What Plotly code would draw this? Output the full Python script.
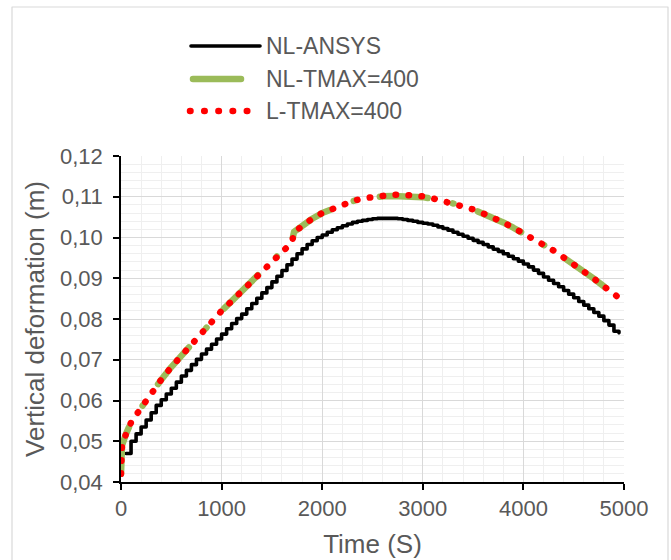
import plotly.graph_objects as go

# ---- data -------------------------------------------------------------
# NL-ANSYS: sampled every 50 s
t_ansys = list(range(50, 5000, 50))
v_ansys = [
    0.0470, 0.0500, 0.0518, 0.0535, 0.0552, 0.0570, 0.0588, 0.0602, 0.0616, 0.0630,
    0.0645, 0.0660, 0.0674, 0.0688, 0.0701, 0.0714, 0.0726, 0.0738, 0.0751, 0.0763,
    0.0776, 0.0789, 0.0801, 0.0812, 0.0825, 0.0838, 0.0851, 0.0864, 0.0877, 0.0891,
    0.0905, 0.0919, 0.0933, 0.0947, 0.0960, 0.0972, 0.0983, 0.0992, 0.1000, 0.1006,
    0.1013, 0.1019, 0.1024, 0.1029, 0.1033, 0.1037, 0.1040, 0.1042, 0.1044, 0.1046,
    0.1047, 0.1047, 0.1047, 0.1047, 0.1046, 0.1044, 0.1042, 0.1040, 0.1037, 0.1035,
    0.1033, 0.1030, 0.1026, 0.1022, 0.1018, 0.1013, 0.1008, 0.1003, 0.0998, 0.0993,
    0.0988, 0.0983, 0.0977, 0.0971, 0.0966, 0.0960, 0.0954, 0.0948, 0.0942, 0.0935,
    0.0928, 0.0920, 0.0912, 0.0903, 0.0895, 0.0887, 0.0879, 0.0870, 0.0861, 0.0852,
    0.0843, 0.0834, 0.0825, 0.0816, 0.0807, 0.0796, 0.0785, 0.0770, 0.0766,
]

# TMAX = 400 runs (nonlinear and linear)
t_tmax = [0, 10, 50, 100, 200, 300, 400, 500, 600, 700, 800, 900, 1000, 1100, 1200,
          1300, 1400, 1500, 1600, 1700, 1720, 1800, 1900, 2000, 2100, 2200, 2300,
          2400, 2500, 2600, 2700, 2800, 2900, 3000, 3100, 3200, 3300, 3400, 3500,
          3600, 3700, 3800, 3900, 4000, 4100, 4200, 4300, 4400, 4500, 4600, 4700,
          4800, 4900, 4950]
v_nl_tmax = [0.0420, 0.0490, 0.0518, 0.0546, 0.0582, 0.0618, 0.0651, 0.0682, 0.0710,
             0.0739, 0.0767, 0.0793, 0.0820, 0.0844, 0.0868, 0.0892, 0.0917, 0.0941,
             0.0963, 0.0990, 0.1014, 0.1030, 0.1046, 0.1060, 0.1071, 0.1081, 0.1089,
             0.1095, 0.1099, 0.1101, 0.1102, 0.1102, 0.1101, 0.1099, 0.1095, 0.1090,
             0.1084, 0.1078, 0.1069, 0.1059, 0.1049, 0.1037, 0.1024, 0.1011, 0.0998,
             0.0983, 0.0968, 0.0951, 0.0935, 0.0918, 0.0899, 0.0880, 0.0860, 0.0852]
v_l_tmax = [0.0420, 0.0490, 0.0518, 0.0546, 0.0582, 0.0618, 0.0651, 0.0682, 0.0710,
            0.0739, 0.0767, 0.0793, 0.0820, 0.0844, 0.0868, 0.0892, 0.0917, 0.0941,
            0.0963, 0.0988, 0.1013, 0.1030, 0.1046, 0.1060, 0.1071, 0.1081, 0.1089,
            0.1096, 0.1100, 0.1103, 0.1105, 0.1105, 0.1104, 0.1101, 0.1096, 0.1090,
            0.1084, 0.1078, 0.1069, 0.1059, 0.1049, 0.1037, 0.1024, 0.1011, 0.0998,
            0.0983, 0.0968, 0.0951, 0.0935, 0.0918, 0.0899, 0.0880, 0.0860, 0.0852]

series_names = ["NL-ANSYS", "NL-TMAX=400", "L-TMAX=400"]

x_tickvals = [0, 1000, 2000, 3000, 4000, 5000]
x_ticktext = ["0", "1000", "2000", "3000", "4000", "5000"]
y_tickvals = [0.04, 0.05, 0.06, 0.07, 0.08, 0.09, 0.10, 0.11, 0.12]
y_ticktext = ["0,04", "0,05", "0,06", "0,07", "0,08", "0,09", "0,10", "0,11", "0,12"]

# ---- styling ----------------------------------------------------------
FONT = "Liberation Sans, Arial, sans-serif"
TXT = "#595959"
BLACK = "#000000"
GREEN = "#9BBB59"
RED = "#FF0000"
GREEN_DASH = "48px,25.5px,1px,25.5px"   # long dash - dot
RED_DOT = "0.5px,12.5px"                # round dots once caps are rounded

W, H = 671, 560
ML, MR, MT, MB = 121, 47, 156, 78
PW, PH = W - ML - MR, H - MT - MB


def px_x(px):
    return (px - ML) / PW


def px_y(py):
    return (H - MB - py) / PH


fig = go.Figure()
fig.add_trace(go.Scatter(
    x=t_ansys, y=v_ansys, name=series_names[0], mode="lines",
    line=dict(color=BLACK, width=3.6, shape="hv"), cliponaxis=False,
))
fig.add_trace(go.Scatter(
    x=t_tmax, y=v_nl_tmax, name=series_names[1], mode="lines",
    line=dict(color=GREEN, width=6.5, dash=GREEN_DASH), cliponaxis=False,
))
fig.add_trace(go.Scatter(
    x=t_tmax, y=v_l_tmax, name=series_names[2], mode="lines",
    line=dict(color=RED, width=6.5, dash=RED_DOT), cliponaxis=False,
))

shapes = [
    # chart frame
    dict(type="rect", xref="paper", yref="paper",
         x0=px_x(12), x1=px_x(668), y0=px_y(620), y1=px_y(7),
         line=dict(color="#D9D9D9", width=1.2), fillcolor="rgba(0,0,0,0)", layer="below"),
    # legend samples
    dict(type="line", xref="paper", yref="paper", x0=px_x(191), x1=px_x(260),
         y0=px_y(46), y1=px_y(46), line=dict(color=BLACK, width=3.6)),
    dict(type="line", xref="paper", yref="paper", x0=px_x(193), x1=px_x(241),
         y0=px_y(79), y1=px_y(79), line=dict(color=GREEN, width=6.5)),
    dict(type="line", xref="paper", yref="paper", x0=px_x(190), x1=px_x(249),
         y0=px_y(111), y1=px_y(111), line=dict(color=RED, width=6.5, dash="0.5px,13.7px")),
]

annotations = [
    dict(text=name, xref="paper", yref="paper", x=px_x(264), y=px_y(py),
         xanchor="left", yanchor="middle", showarrow=False,
         font=dict(family=FONT, size=23, color=TXT))
    for name, py in zip(series_names, [46, 79, 111])
]

axis_common = dict(
    showline=True, linecolor=BLACK, linewidth=1.5,
    ticks="outside", ticklen=6, tickwidth=1.5, tickcolor=BLACK,
    tickfont=dict(family=FONT, size=22, color=TXT),
    showgrid=True, gridcolor="#D9D9D9", gridwidth=1.3,
    zeroline=False, automargin=False,
)

fig.update_layout(
    width=W, height=H,
    margin=dict(l=ML, r=MR, t=MT, b=MB, pad=0),
    paper_bgcolor="white", plot_bgcolor="white",
    showlegend=False,
    shapes=shapes,
    annotations=annotations,
    xaxis=dict(
        range=[0, 5000], tickmode="array", tickvals=x_tickvals, ticktext=x_ticktext,
        minor=dict(tickmode="linear", tick0=0, dtick=200, showgrid=True,
                   gridcolor="#EFEFEF", gridwidth=1.3, ticks=""),
        title=dict(text="Time (S)", font=dict(family=FONT, size=26, color=TXT), standoff=15),
        **axis_common,
    ),
    yaxis=dict(
        range=[0.04, 0.12], tickmode="array", tickvals=y_tickvals, ticktext=y_ticktext,
        minor=dict(tickmode="linear", tick0=0.04, dtick=0.002, showgrid=True,
                   gridcolor="#EFEFEF", gridwidth=1.3, ticks=""),
        ticklabelstandoff=6,
        title=dict(text="Vertical deformation (m)", font=dict(family=FONT, size=26, color=TXT),
                   standoff=8),
        **axis_common,
    ),
)

# round caps/joins so the dotted and dash-dot strokes draw as round dots
round_caps = """
var gd = document.getElementById('{plot_id}');
function roundCaps(){
  gd.querySelectorAll('.scatterlayer path.js-line, .shapelayer path').forEach(function(p){
    p.style.strokeLinecap = 'round';
    p.style.strokeLinejoin = 'round';
  });
}
roundCaps();
gd.on('plotly_afterplot', roundCaps);
"""

fig.write_html("out.html", post_script=round_caps)
